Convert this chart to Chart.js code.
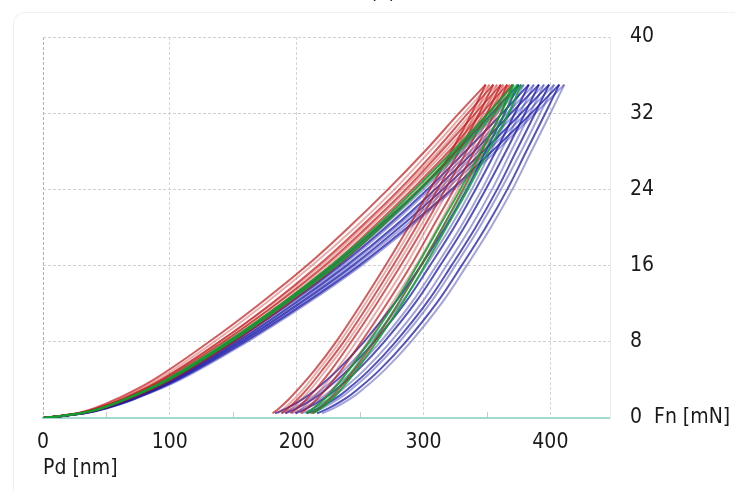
<!DOCTYPE html>
<html>
<head>
<meta charset="utf-8">
<script src="https://cdn.jsdelivr.net/npm/chart.js@4.4.1/dist/chart.umd.min.js"></script>
<style>
  html, body { margin: 0; padding: 0; background: #fff; }
  #wrap { position: relative; width: 735px; height: 491px; overflow: hidden; }
  #frame { position: absolute; left: 13px; top: 12px; width: 760px; height: 520px; border: 1px solid #f0f0f0; border-radius: 12px; }
  #c { position: absolute; left: 0; top: 0; }
</style>
</head>
<body>
<div id="wrap">
  <div id="frame"></div>
  <canvas id="c" width="735" height="491"></canvas>
</div>
<script>
(function() {
  var loadF = [0, 0.5, 1, 2, 4, 8, 12, 16, 20, 24, 28, 32, 35];
  var unloadF = [35, 32, 28, 24, 20, 16, 12, 8, 5, 3, 2, 1, 0.5];

  // depth Pd (nm) per curve, red series
  var redLoad = [
    [0, 27, 40, 58, 87, 131, 171, 208, 241, 272, 301, 328, 349],
    [0, 28, 42, 61, 90, 135, 175, 212, 246, 277, 305, 332, 352],
    [0, 28, 43, 63, 93, 139, 180, 217, 250, 281, 309, 335, 355],
    [0, 29, 43, 62, 93, 139, 181, 219, 252, 283, 312, 338, 358],
    [0, 29, 44, 64, 95, 142, 184, 222, 255, 286, 314, 341, 361],
    [0, 29, 44, 65, 96, 143, 185, 224, 257, 288, 317, 344, 363],
    [0, 30, 45, 66, 98, 146, 188, 227, 260, 291, 320, 346, 366],
    [0, 30, 46, 66, 98, 147, 190, 229, 263, 294, 322, 349, 368],
    [0, 31, 47, 68, 101, 150, 193, 232, 266, 297, 325, 351, 370]
  ];
  var redUnload = [
    [349, 338, 322, 305, 288, 270, 251, 231, 214, 201, 194, 186, 181],
    [352, 341, 325, 308, 291, 273, 254, 234, 217, 205, 198, 190, 185],
    [355, 344, 328, 311, 294, 276, 257, 237, 220, 208, 201, 193, 188],
    [358, 347, 331, 314, 297, 279, 260, 240, 223, 211, 204, 196, 191],
    [361, 350, 334, 317, 300, 282, 263, 243, 227, 215, 208, 200, 195],
    [363, 353, 337, 320, 303, 286, 267, 247, 231, 219, 212, 204, 199],
    [366, 356, 340, 324, 307, 290, 271, 251, 235, 223, 216, 208, 203],
    [368, 358, 343, 327, 311, 294, 275, 256, 240, 228, 221, 213, 208],
    [370, 361, 346, 331, 315, 298, 280, 261, 245, 233, 226, 218, 212]
  ];

  // green series
  var greenLoad = [
    [0, 30, 45, 65, 97, 145, 188, 227, 262, 293, 323, 351, 371],
    [0, 30, 45, 66, 98, 147, 190, 229, 264, 296, 325, 353, 374],
    [0, 30, 46, 66, 99, 148, 191, 231, 266, 298, 328, 356, 377]
  ];
  var greenUnload = [
    [371, 361, 345, 329, 312, 295, 277, 257, 241, 229, 222, 213, 207],
    [374, 364, 348, 332, 315, 298, 280, 260, 244, 232, 225, 216, 210],
    [377, 367, 351, 335, 318, 301, 283, 263, 247, 235, 228, 219, 213]
  ];

  // blue series
  var blueLoad = [
    [0, 30, 45, 66, 98, 147, 190, 229, 264, 297, 326, 354, 375],
    [0, 30, 46, 67, 99, 148, 192, 232, 267, 300, 330, 358, 379],
    [0, 31, 46, 68, 100, 150, 194, 234, 270, 303, 333, 362, 383],
    [0, 31, 47, 68, 101, 151, 196, 236, 272, 305, 337, 366, 387],
    [0, 31, 47, 69, 102, 153, 198, 239, 276, 309, 340, 369, 391],
    [0, 32, 48, 70, 103, 154, 200, 241, 278, 312, 343, 373, 395],
    [0, 32, 48, 70, 104, 156, 202, 244, 281, 315, 347, 377, 399],
    [0, 32, 49, 71, 105, 157, 204, 246, 284, 318, 350, 381, 403],
    [0, 33, 49, 72, 106, 159, 206, 249, 287, 322, 354, 385, 407],
    [0, 33, 50, 72, 108, 161, 208, 251, 289, 324, 357, 388, 411]
  ];
  var blueUnload = [
    [375, 364, 349, 334, 317, 298, 277, 253, 232, 215, 205, 192, 183],
    [379, 368, 353, 338, 321, 302, 282, 258, 237, 220, 210, 197, 188],
    [383, 372, 357, 341, 324, 305, 285, 261, 240, 223, 213, 200, 191],
    [387, 376, 361, 346, 329, 310, 290, 266, 245, 228, 218, 205, 196],
    [391, 380, 365, 349, 332, 313, 293, 269, 248, 231, 221, 208, 199],
    [395, 384, 369, 354, 337, 318, 298, 274, 253, 236, 226, 213, 204],
    [399, 388, 373, 358, 341, 322, 302, 278, 257, 240, 230, 217, 208],
    [403, 392, 377, 361, 344, 325, 305, 281, 260, 243, 233, 220, 211],
    [407, 396, 381, 366, 349, 330, 310, 286, 265, 248, 238, 225, 216],
    [411, 400, 385, 370, 353, 334, 314, 290, 269, 252, 242, 229, 220]
  ];

  var xTicksMinor = [50, 150, 250, 350];
  var fontFam = "'DejaVu Sans Condensed', 'DejaVu Sans', sans-serif";

  function toPts(depths, forces) {
    return depths.map(function(h, i) { return { x: h, y: forces[i] }; });
  }

  var datasets = [];
  function addSeries(loads, unloads, rgb, aHi, aLo) {
    loads.forEach(function(arr, i) {
      var a = (i % 2 === 0) ? aHi : aLo;
      var col = 'rgba(' + rgb + ',' + a + ')';
      datasets.push({ data: toPts(arr, loadF), borderColor: col });
      datasets.push({ data: toPts(unloads[i], unloadF), borderColor: col });
    });
  }
  // first added is drawn on top
  addSeries(greenLoad, greenUnload, '10,160,50', 0.85, 0.6);
  addSeries(redLoad, redUnload, '195,20,20', 0.7, 0.35);
  addSeries(blueLoad, blueUnload, '25,25,170', 0.75, 0.4);

  datasets.forEach(function(d) {
    d.showLine = true;
    d.pointRadius = 0;
    d.borderWidth = 2;
    d.tension = 0.4;
    d.fill = false;
  });

  var extras = {
    id: 'extras',
    afterDraw: function(chart) {
      var ctx = chart.ctx, xs = chart.scales.x, area = chart.chartArea;
      ctx.save();
      ctx.strokeStyle = '#c9c9c9';
      ctx.lineWidth = 1;
      xTicksMinor.forEach(function(v) {
        var px = Math.round(xs.getPixelForValue(v)) + 0.5;
        ctx.beginPath();
        ctx.moveTo(px, area.bottom - 1);
        ctx.lineTo(px, area.bottom - 6);
        ctx.stroke();
      });
      ctx.fillStyle = '#222';
      ctx.font = '21px ' + fontFam;
      ctx.textAlign = 'center';
      ctx.textBaseline = 'bottom';
      ctx.fillText('(a)', 383, 3);
      ctx.restore();
    }
  };

  new Chart(document.getElementById('c'), {
    type: 'scatter',
    data: { datasets: datasets },
    plugins: [extras],
    options: {
      responsive: false,
      animation: false,
      layout: { padding: { top: 37, left: 43, right: 0, bottom: 0 } },
      elements: { line: { tension: 0.4, capBezierPoints: false } },
      plugins: { legend: { display: false }, tooltip: { enabled: false } },
      scales: {
        x: {
          type: 'linear',
          min: 0,
          max: 447,
          afterFit: function(s) { s.height = 73; },
          border: { display: true, color: '#a3d8d2', width: 2, dash: [3, 2] },
          grid: {
            drawTicks: false,
            lineWidth: 1,
            color: function(c) {
              if (!c.tick) return 'transparent';
              if (c.tick.value === 0) return 'rgba(215,80,80,0.6)';
              return c.tick.value % 100 === 0 ? '#d4d4d4' : 'transparent';
            }
          },
          ticks: {
            stepSize: 50,
            includeBounds: false,
            maxRotation: 0,
            autoSkip: false,
            padding: 12,
            color: '#1a1a1a',
            font: { family: fontFam, size: 21 },
            callback: function(v) { return v % 100 === 0 ? String(v) : ''; }
          },
          title: {
            display: true,
            text: 'Pd [nm]',
            align: 'start',
            color: '#1a1a1a',
            font: { family: fontFam, size: 21 },
            padding: { top: 0, bottom: 10 }
          }
        },
        y: {
          type: 'linear',
          position: 'right',
          min: 0,
          max: 40,
          afterFit: function(s) { s.width = 125; },
          border: { display: true, color: '#ececec', width: 1, dash: [3, 2] },
          grid: {
            drawTicks: false,
            color: '#d0d0d0',
            lineWidth: 1
          },
          ticks: {
            stepSize: 8,
            padding: 20,
            color: '#1a1a1a',
            font: { family: fontFam, size: 21 },
            callback: function(v) { return v === 0 ? '0  Fn [mN]' : String(v); }
          }
        }
      }
    }
  });
})();
</script>
</body>
</html>
